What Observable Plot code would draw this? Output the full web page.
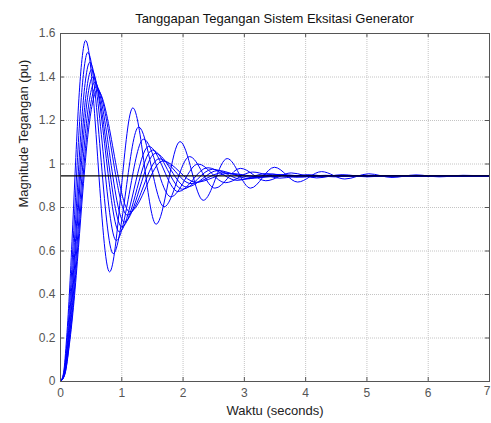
<!DOCTYPE html>
<html><head><meta charset="utf-8">
<script src="https://cdn.jsdelivr.net/npm/d3@7"></script>
<script src="https://cdn.jsdelivr.net/npm/@observablehq/plot@0.6"></script>
<style>
body{margin:0;background:#fff;}
#title{width:491px;box-sizing:border-box;height:26px;font:13px "Liberation Sans",Arial,sans-serif;line-height:14px;padding-top:12px;padding-left:58px;text-align:center;color:#111;}
</style></head><body>
<div id="title">Tanggapan Tegangan Sistem Eksitasi Generator</div>
<div id="chart"></div>
<script>
const title = "Tanggapan Tegangan Sistem Eksitasi Generator";
const xLabel = "Waktu (seconds)";
const yLabel = "Magnitude Tegangan (pu)";
const xTicks = [0,1,2,3,4,5,6,7];
const yTicks = [0,0.2,0.4,0.6,0.8,1,1.2,1.4,1.6];
const steady = 0.945;

// [time, value] for each response curve
const curve1 = [[0,0],[0.05,0.041],[0.10,0.201],[0.15,0.430],[0.20,0.720],[0.25,1.030],[0.30,1.300],[0.35,1.480],[0.41,1.568],[0.80,0.504],[1.18,1.258],[1.56,0.723],[1.95,1.103],[2.33,0.833],[2.72,1.025],[3.10,0.889],[3.49,0.985],[3.87,0.917],[4.26,0.965],[4.64,0.931],[5.03,0.955],[5.41,0.938],[5.80,0.950],[6.18,0.941],[6.57,0.948],[7.0,0.944]];
const curve2 = [[0,0],[0.054,0.039],[0.109,0.194],[0.163,0.415],[0.217,0.694],[0.271,0.994],[0.326,1.254],[0.380,1.428],[0.445,1.513],[0.86,0.588],[1.275,1.170],[1.69,0.803],[2.105,1.034],[2.52,0.889],[2.935,0.980],[3.35,0.923],[3.765,0.959],[4.18,0.936],[4.595,0.951],[5.01,0.941],[5.425,0.947],[5.84,0.943],[7.0,0.945]];
const curve3 = [[0,0],[0.058,0.038],[0.117,0.188],[0.175,0.402],[0.233,0.674],[0.292,0.964],[0.350,1.217],[0.408,1.386],[0.478,1.468],[0.91,0.648],[1.355,1.114],[1.80,0.849],[2.245,1.000],[2.69,0.914],[3.135,0.963],[3.58,0.935],[4.025,0.951],[4.47,0.941],[4.915,0.947],[7.0,0.945]];
const curve4 = [[0,0],[0.062,0.037],[0.123,0.183],[0.185,0.393],[0.247,0.658],[0.309,0.941],[0.370,1.188],[0.432,1.353],[0.506,1.433],[0.96,0.688],[1.44,1.081],[1.92,0.873],[2.40,0.983],[2.88,0.925],[3.36,0.956],[3.84,0.939],[4.32,0.948],[4.80,0.943],[7.0,0.945]];
const curve5 = [[0,0],[0.064,0.036],[0.129,0.179],[0.193,0.384],[0.257,0.643],[0.321,0.920],[0.386,1.161],[0.450,1.322],[0.527,1.400],[1.00,0.711],[1.50,1.064],[1.99,0.884],[2.48,0.976],[2.97,0.929],[3.46,0.953],[3.95,0.941],[4.44,0.947],[7.0,0.945]];
const curve6 = [[0,0],[0.068,0.036],[0.135,0.176],[0.203,0.377],[0.271,0.631],[0.339,0.903],[0.406,1.140],[0.474,1.298],[0.555,1.375],[1.04,0.733],[1.55,1.049],[2.06,0.894],[2.57,0.970],[3.08,0.933],[3.59,0.951],[4.10,0.942],[4.61,0.946],[7.0,0.945]];
const curve7 = [[0,0],[0.071,0.035],[0.142,0.173],[0.212,0.371],[0.283,0.622],[0.354,0.890],[0.425,1.123],[0.495,1.279],[0.58,1.355],[1.09,0.765],[1.61,1.024],[2.13,0.910],[2.65,0.960],[3.17,0.938],[3.69,0.948],[4.21,0.944],[7.0,0.945]];
const curve8 = [[0,0],[0.073,0.035],[0.146,0.172],[0.220,0.367],[0.293,0.615],[0.366,0.880],[0.439,1.111],[0.512,1.265],[0.60,1.340],[1.13,0.780],[1.67,1.014],[2.21,0.916],[2.75,0.957],[3.29,0.940],[3.83,0.947],[7.0,0.945]];

const curves = [curve1,curve2,curve3,curve4,curve5,curve6,curve7,curve8];
const rows = curves.flatMap((c,i) => c.map(([t,v]) => ({curve: i, t, v})));

const W = 491, H = 397, mL = 60, mR = 2, mT = 7, mB = 42;
const fW = W - mL - mR, fH = H - mT - mB;
const axisColor = "#555";
const lastX = xTicks[xTicks.length - 1];

const chart = Plot.plot({
  width: W, height: H,
  marginLeft: mL, marginRight: mR, marginTop: mT, marginBottom: mB,
  x: {domain: [0, 7]},
  y: {domain: [0, 1.6]},
  style: {fontFamily: "Liberation Sans, Arial, sans-serif", fontSize: "12px", background: "#fff", overflow: "visible"},
  marks: [
    Plot.gridX(xTicks, {stroke: "#c4c4c4", strokeOpacity: 1, strokeDasharray: "1,1"}),
    Plot.gridY(yTicks, {stroke: "#c4c4c4", strokeOpacity: 1, strokeDasharray: "1,1"}),
    Plot.line(rows, {x: "t", y: "v", z: "curve", stroke: "#0000ff", strokeWidth: 1, curve: "monotone-x"}),
    Plot.ruleY([steady], {stroke: "#000", strokeWidth: 1.3}),
    Plot.frame({stroke: axisColor}),
    Plot.tickX(xTicks, {x: d => d, insetTop: fH - 4, stroke: axisColor}),
    Plot.tickX(xTicks, {x: d => d, insetBottom: fH - 4, stroke: axisColor}),
    Plot.tickY(yTicks, {y: d => d, insetRight: fW - 4, stroke: axisColor}),
    Plot.tickY(yTicks, {y: d => d, insetLeft: fW - 4, stroke: axisColor}),
    Plot.axisX(xTicks.filter(d => d !== lastX), {tickSize: 0, tickPadding: 7, label: null, color: axisColor, fontSize: 12, tickFormat: d => String(d)}),
    Plot.text([lastX], {x: d => d, frameAnchor: "bottom", dy: 13, textAnchor: "end", dx: 1, fontSize: 12, fill: axisColor, text: d => String(d)}),
    Plot.axisY(yTicks, {tickSize: 0, tickPadding: 5, label: null, color: axisColor, fontSize: 12, tickFormat: d => String(d)}),
    Plot.text([xLabel], {frameAnchor: "bottom", dy: 33, fontSize: 13, fill: "#222"}),
    Plot.text([yLabel], {frameAnchor: "left", rotate: -90, dx: -37, fontSize: 13, fill: "#222"})
  ]
});
document.getElementById("chart").appendChild(chart);
</script>
</body></html>
